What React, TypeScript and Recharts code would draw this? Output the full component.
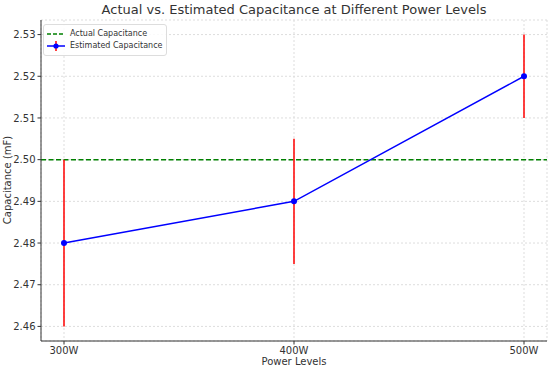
import React from 'react';
import { LineChart, Line, XAxis, YAxis, CartesianGrid, ReferenceLine, ErrorBar } from 'recharts';

const powerLevels = ['300W', '400W', '500W'];
const estimated = [2.48, 2.49, 2.52];
const errors = [0.02, 0.015, 0.01];
const actualCapacitance = 2.5;
const yTicks = [2.46, 2.47, 2.48, 2.49, 2.5, 2.51, 2.52, 2.53];

const data = powerLevels.map((p, i) => ({ x: i, label: p, est: estimated[i], err: errors[i] }));

const FONT = 'DejaVu Sans, sans-serif';

const LegendBox = () => (
  <div style={{ position: 'absolute', left: 43, top: 24, border: '1px solid #ddd', borderRadius: 3, background: 'rgba(255,255,255,0.85)', padding: '3px 4px 3px 2px', fontFamily: FONT, fontSize: 8, color: '#333', lineHeight: '12px' }}>
    <div style={{ display: 'flex', alignItems: 'center' }}>
      <svg width={20} height={10} style={{ marginRight: 4 }}>
        <line x1={1} y1={5} x2={19} y2={5} stroke="green" strokeWidth={1.5} strokeDasharray="4 2" />
      </svg>
      Actual Capacitance
    </div>
    <div style={{ display: 'flex', alignItems: 'center' }}>
      <svg width={20} height={10} style={{ marginRight: 4 }}>
        <line x1={1} y1={5} x2={19} y2={5} stroke="blue" strokeWidth={1.5} />
        <line x1={10} y1={0} x2={10} y2={10} stroke="red" strokeWidth={1.5} />
        <circle cx={10} cy={5} r={2.6} fill="blue" />
      </svg>
      Estimated Capacitance
    </div>
  </div>
);

export default function App() {
  return (
    <div style={{ position: 'absolute', left: 0, top: 0, width: 550, height: 371, background: '#fff' }}>
      <LineChart width={550} height={371} data={data} margin={{ top: 20, right: 3, left: 0, bottom: 0 }}>
        <CartesianGrid stroke="#ddd" strokeDasharray="2 2" />
        <XAxis
          dataKey="x"
          type="number"
          domain={[-0.1, 2.1]}
          ticks={[0, 1, 2]}
          tickFormatter={(v: number) => powerLevels[v]}
          height={30}
          stroke="#333"
          tickSize={3.5}
          tick={{ fontSize: 10, fill: '#333', fontFamily: FONT }}
        />
        <YAxis
          type="number"
          domain={[2.4565, 2.5335]}
          ticks={yTicks}
          allowDataOverflow
          tickFormatter={(v: number) => v.toFixed(2)}
          width={41}
          stroke="#333"
          tickSize={3.5}
          tick={{ fontSize: 10, fill: '#333', fontFamily: FONT }}
        />
        <ReferenceLine y={actualCapacitance} stroke="green" strokeWidth={1.5} strokeDasharray="5 2.5" />
        <Line dataKey="est" stroke="blue" strokeWidth={1.5} dot={{ r: 3, fill: 'blue', stroke: 'blue', strokeWidth: 0 }} isAnimationActive={false}>
          <ErrorBar dataKey="err" stroke="red" strokeWidth={1.5} width={0} direction="y" isAnimationActive={false} />
        </Line>
      </LineChart>
      <div style={{ position: 'absolute', left: 41, width: 506, top: 1, textAlign: 'center', fontFamily: FONT, fontSize: 13, color: '#333', lineHeight: '18px' }}>
        Actual vs. Estimated Capacitance at Different Power Levels
      </div>
      <div style={{ position: 'absolute', left: 41, width: 506, top: 355, textAlign: 'center', fontFamily: FONT, fontSize: 10, color: '#333', lineHeight: '14px' }}>
        Power Levels
      </div>
      <div style={{ position: 'absolute', left: 8 - 60, width: 120, top: 180 - 7, textAlign: 'center', fontFamily: FONT, fontSize: 10, color: '#333', lineHeight: '14px', transform: 'rotate(-90deg)', transformOrigin: '60px 7px' }}>
        Capacitance (mF)
      </div>
      <LegendBox />
    </div>
  );
}
